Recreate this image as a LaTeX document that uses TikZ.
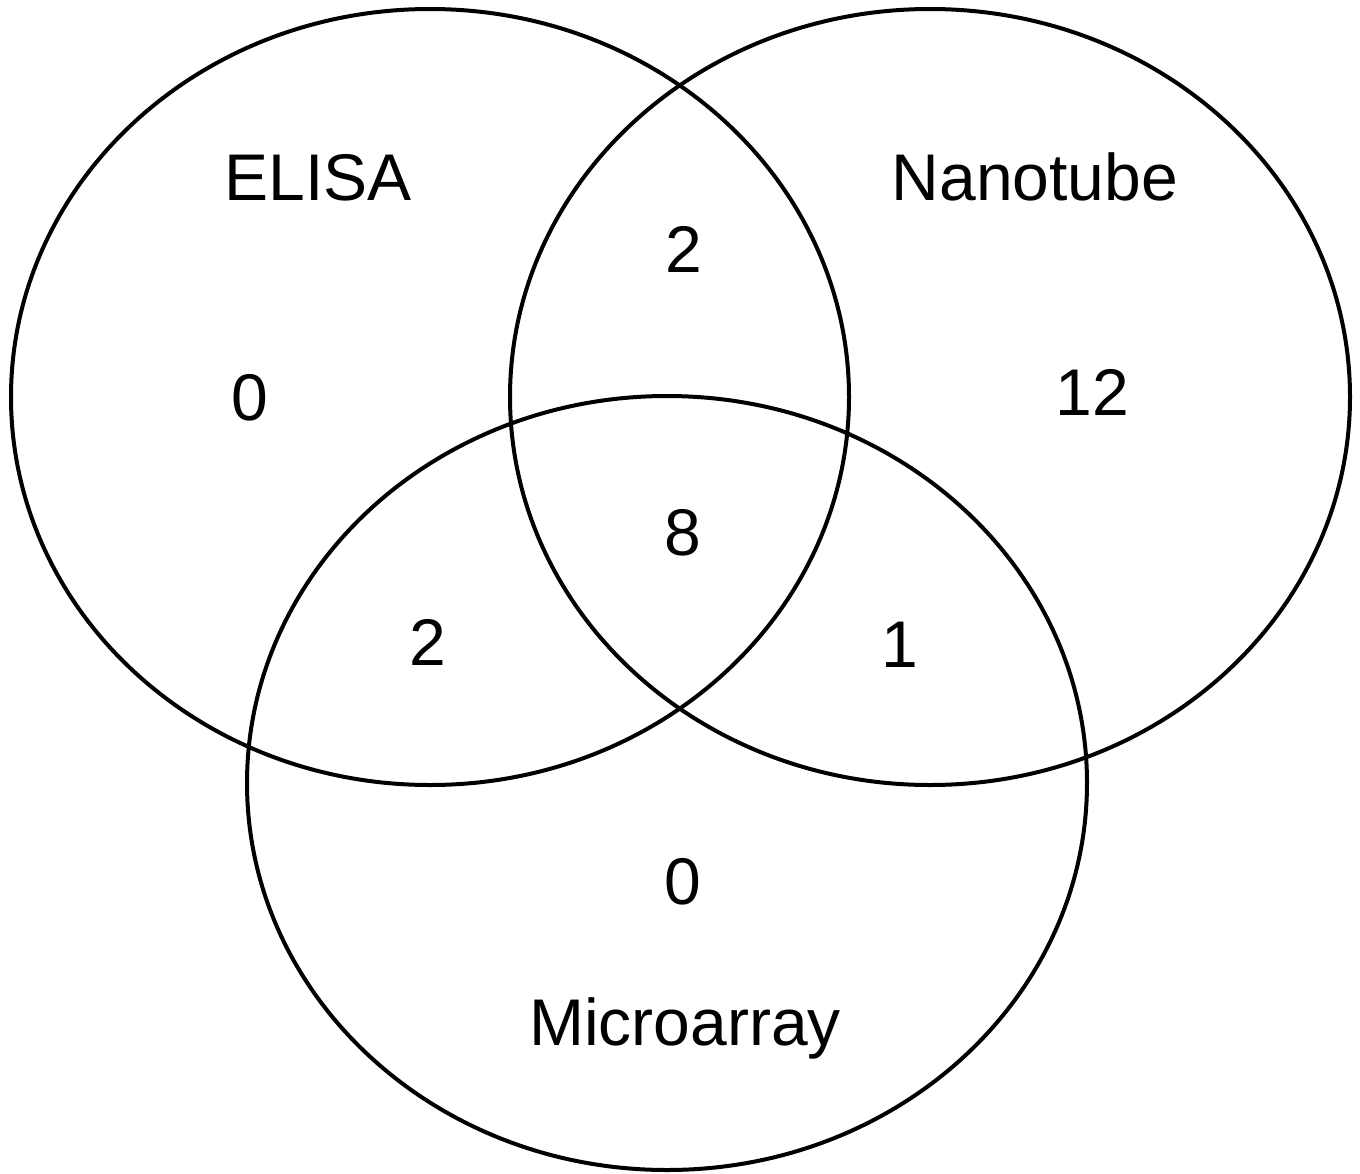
\documentclass[tikz,border=0pt]{standalone}
\usepackage{fontspec}
\setmainfont{Liberation Sans}
\begin{document}
\begin{tikzpicture}[x=1pt,y=-1pt,
  setline/.style={draw=black,line width=4pt},
  lbl/.style={anchor=base,inner sep=0pt,font=\fontsize{66}{70}\selectfont}]
\useasboundingbox (0,0) rectangle (1360,1173);
% the three sets
\draw[setline] (430,397) ellipse [x radius=419, y radius=388];
\draw[setline] (930,397) ellipse [x radius=420, y radius=388];
\draw[setline] (667,783) ellipse [x radius=420, y radius=387];
% set names
\node[lbl] (elisa) at (318,200) {ELISA};
\node[lbl] (nano) at (1035,200) {Nanotube};
\node[lbl] (micro) at (685,1045) {Microarray};
% region counts
\node[lbl] (eonly) at (250,420) {0};
\node[lbl] (en) at (684,272) {2};
\node[lbl] (nonly) at (1092,415) {12};
\node[lbl] (enm) at (683,555) {8};
\node[lbl] (em) at (428,665) {2};
\node[lbl] (nm) at (900,667) {1};
\node[lbl] (monly) at (683,904) {0};
\end{tikzpicture}
\end{document}
